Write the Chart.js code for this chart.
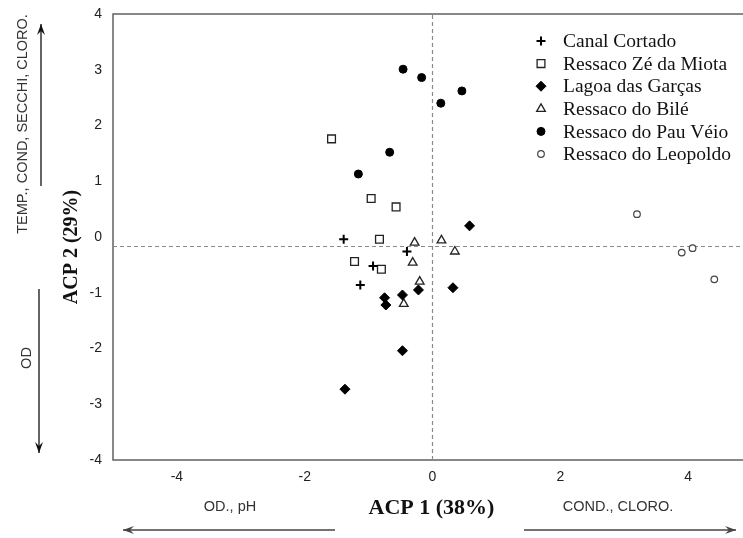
<!DOCTYPE html>
<html>
<head>
<meta charset="utf-8">
<script src="https://cdn.jsdelivr.net/npm/chart.js@4/dist/chart.umd.min.js"></script>
<style>
  body { margin: 0; overflow: hidden; background: #fff; }
  #acp { display: block; }
</style>
</head>
<body>
<canvas id="acp" width="760" height="538"></canvas>
<script>
// site scores on the two first axes, [ACP 1, ACP 2]
const canalCortado = [[-1.39, -0.04], [-0.40, -0.26], [-0.93, -0.52], [-1.13, -0.86]];
const zeDaMiota = [[-1.58, 1.76], [-0.96, 0.69], [-0.57, 0.54], [-0.83, -0.04], [-1.22, -0.44], [-0.80, -0.58]];
const lagoaGarcas = [[0.58, 0.20], [0.32, -0.91], [-0.22, -0.95], [-0.47, -1.04], [-0.75, -1.09], [-0.73, -1.22], [-0.47, -2.04], [-1.37, -2.73]];
const bile = [[-0.28, -0.10], [0.14, -0.06], [0.35, -0.26], [-0.31, -0.46], [-0.20, -0.80], [-0.45, -1.20]];
const pauVeio = [[-0.46, 3.01], [-0.17, 2.86], [0.13, 2.40], [0.46, 2.62], [-0.67, 1.52], [-1.16, 1.13]];
const leopoldo = [[3.20, 0.41], [4.07, -0.20], [3.90, -0.28], [4.41, -0.76]];

const siteNames = ['Canal Cortado', 'Ressaco Zé da Miota', 'Lagoa das Garças', 'Ressaco do Bilé', 'Ressaco do Pau Véio', 'Ressaco do Leopoldo'];
const xTicks = [-4, -2, 0, 2, 4];
const yTicks = [-4, -3, -2, -1, 0, 1, 2, 3, 4];
const xRange = [-5, 5];
const yRange = [-4, 4];
const hLineY = -0.17; // dashed reference lines
const vLineX = 0;

const toPts = arr => arr.map(p => ({ x: p[0], y: p[1] }));

const markers = [
  { pointStyle: 'cross', radius: 4.5, bg: '#000', border: '#000', bw: 2 },
  { pointStyle: 'rect', radius: 5.5, bg: '#fff', border: '#222', bw: 1.3 },
  { pointStyle: 'rectRot', radius: 5, bg: '#000', border: '#000', bw: 1 },
  { pointStyle: 'triangle', radius: 5, bg: '#fff', border: '#222', bw: 1.3 },
  { pointStyle: 'circle', radius: 4, bg: '#000', border: '#000', bw: 1 },
  { pointStyle: 'circle', radius: 3.3, bg: '#fff', border: '#444', bw: 1.2 }
];
const series = [canalCortado, zeDaMiota, lagoaGarcas, bile, pauVeio, leopoldo];

const siteSets = series.map((s, i) => ({
  label: siteNames[i],
  data: toPts(s),
  pointStyle: markers[i].pointStyle,
  pointRadius: markers[i].radius,
  pointHoverRadius: markers[i].radius,
  pointBackgroundColor: markers[i].bg,
  pointBorderColor: markers[i].border,
  pointBorderWidth: markers[i].bw,
  showLine: false
}));

const refLines = [
  { data: [{ x: xRange[0], y: hLineY }, { x: xRange[1], y: hLineY }] },
  { data: [{ x: vLineX, y: yRange[0] }, { x: vLineX, y: yRange[1] }] }
].map(d => ({
  label: '',
  data: d.data,
  showLine: true,
  borderColor: '#8a8a8a',
  borderWidth: 1.2,
  borderDash: [4, 3],
  pointRadius: 0,
  order: 10
}));

function arrow(ctx, x1, y1, x2, y2) {
  const a = Math.atan2(y2 - y1, x2 - x1);
  ctx.beginPath();
  ctx.moveTo(x1, y1);
  ctx.lineTo(x2, y2);
  ctx.stroke();
  ctx.beginPath();
  ctx.moveTo(x2, y2);
  ctx.lineTo(x2 - 11 * Math.cos(a) + 4 * Math.sin(a), y2 - 11 * Math.sin(a) - 4 * Math.cos(a));
  ctx.lineTo(x2 - 7 * Math.cos(a), y2 - 7 * Math.sin(a));
  ctx.lineTo(x2 - 11 * Math.cos(a) - 4 * Math.sin(a), y2 - 11 * Math.sin(a) + 4 * Math.cos(a));
  ctx.closePath();
  ctx.fill();
}

// frame, axis titles, variable arrows and the legend
const decorations = {
  id: 'decorations',
  beforeDatasetsDraw(chart) {
    const { ctx, chartArea: a } = chart;
    ctx.save();
    ctx.strokeStyle = '#6b6b6b';
    ctx.lineWidth = 1.6;
    ctx.strokeRect(a.left, a.top, a.right - a.left, a.bottom - a.top);
    ctx.restore();
  },
  afterDraw(chart) {
    const { ctx, chartArea: a } = chart;
    ctx.save();

    ctx.fillStyle = '#111';
    ctx.textAlign = 'center';
    ctx.textBaseline = 'middle';
    ctx.font = 'bold 22px "Liberation Serif"';
    ctx.fillText('ACP 1 (38%)', (a.left + a.right) / 2 - 1, 508);
    ctx.save();
    ctx.translate(72, 247);
    ctx.rotate(-Math.PI / 2);
    ctx.font = 'bold 20px "Liberation Serif"';
    ctx.fillText('ACP 2 (29%)', 0, 0);
    ctx.restore();

    ctx.fillStyle = '#333';
    ctx.font = '14.5px "Liberation Sans"';
    ctx.fillText('OD., pH', 230, 507);
    ctx.fillText('COND., CLORO.', 618, 507);
    ctx.save();
    ctx.translate(23, 124);
    ctx.rotate(-Math.PI / 2);
    ctx.fillText('TEMP., COND, SECCHI, CLORO.', 0, 0);
    ctx.restore();
    ctx.save();
    ctx.translate(27, 358);
    ctx.rotate(-Math.PI / 2);
    ctx.fillText('OD', 0, 0);
    ctx.restore();

    ctx.strokeStyle = '#111';
    ctx.fillStyle = '#111';
    ctx.lineWidth = 1.3;
    arrow(ctx, 41, 186, 41, 24);
    arrow(ctx, 39, 289, 39, 453);
    ctx.strokeStyle = '#444';
    ctx.fillStyle = '#444';
    arrow(ctx, 335, 530, 123, 530);
    arrow(ctx, 524, 530, 736, 530);

    // legend
    ctx.textAlign = 'left';
    ctx.font = '19.5px "Liberation Serif"';
    siteNames.forEach((name, i) => {
      const y = 41 + i * 22.6;
      const m = markers[i];
      ctx.fillStyle = m.bg;
      ctx.strokeStyle = m.border;
      ctx.lineWidth = m.bw;
      Chart.helpers.drawPoint(ctx, { pointStyle: m.pointStyle, radius: m.radius, borderWidth: m.bw, rotation: 0 }, 541, y);
      ctx.fillStyle = '#111';
      ctx.fillText(name, 563, y + 1);
    });
    ctx.restore();
  }
};

new Chart(document.getElementById('acp'), {
  type: 'scatter',
  data: { datasets: [...siteSets, ...refLines] },
  options: {
    responsive: false,
    animation: false,
    layout: { padding: { top: 14, left: 0, right: 8, bottom: 0 } },
    plugins: { legend: { display: false }, tooltip: { enabled: false } },
    scales: {
      x: {
        type: 'linear',
        min: xRange[0],
        max: xRange[1],
        grid: { display: false },
        border: { display: false },
        afterBuildTicks: s => { s.ticks = xTicks.map(v => ({ value: v })); },
        afterFit: s => { s.height = 78; },
        ticks: { padding: 1, color: '#222', font: { family: 'Liberation Sans', size: 14 } }
      },
      y: {
        type: 'linear',
        min: yRange[0],
        max: yRange[1],
        grid: { display: false },
        border: { display: false },
        afterBuildTicks: s => { s.ticks = yTicks.map(v => ({ value: v })); },
        afterFit: s => { s.width = 113; },
        ticks: { padding: 3, color: '#222', font: { family: 'Liberation Sans', size: 14 } }
      }
    }
  },
  plugins: [decorations]
});
</script>
</body>
</html>
